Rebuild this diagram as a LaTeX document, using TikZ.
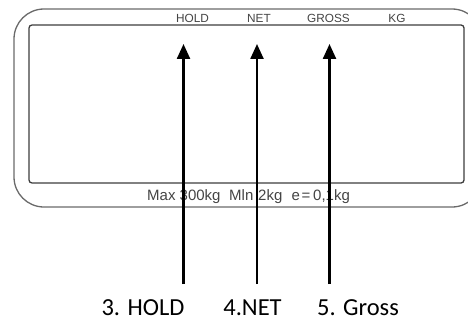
\documentclass[tikz,border=0pt]{standalone}
\usepackage{fontspec}
\setmainfont{Liberation Sans}
\newfontfamily\calfont{Carlito}
\usetikzlibrary{arrows.meta}
\definecolor{framegray}{HTML}{6A6A6A}
\definecolor{innergray}{HTML}{3E3E3E}
\definecolor{txtgray}{HTML}{444444}
\tikzset{
  lcdlabel/.style={font=\fontsize{11.8}{12}\selectfont, text=txtgray, inner sep=0pt, anchor=center},
  spectext/.style={font=\fontsize{15}{16}\selectfont, text=txtgray, inner sep=0pt, anchor=base west},
  caption/.style={font=\calfont\fontsize{24.5}{26}\selectfont, text=black, inner sep=0pt, anchor=base},
  pointer/.style={line width=2.4pt, draw=black, -{Triangle[width=13pt,length=15pt]}},
}
\begin{document}
\begin{tikzpicture}[x=1pt,y=-1pt]
\useasboundingbox (0,0) rectangle (468,321);
\begin{scope}
\clip (0,0) rectangle (468,321);
\draw[framegray, line width=1.3pt, rounded corners=30pt] (14,9) rectangle (482,207);
\end{scope}
\draw[innergray, line width=1.3pt, rounded corners=3pt] (29,25) rectangle (464,183);
\node[lcdlabel] (hold) at (192.5,18) {HOLD};
\node[lcdlabel] (net) at (259,18) {NET};
\node[lcdlabel] (gross) at (328.5,18) {GROSS};
\node[lcdlabel] (kg) at (397,18) {KG};
\node[spectext] (max) at (147,200) {Max 300kg};
\node[spectext] (min) at (229,200) {Mln};
\node[spectext] (min2) at (258,200) {2kg};
\node[spectext] (e) at (291.5,200) {e};
\node[spectext] (eq) at (301.5,200) {=};
\node[spectext] (ev) at (313,200) {0,1kg};
\node[caption] (c3) at (143,315) {3. HOLD};
\node[caption] (c4) at (252.5,315) {4.NET};
\node[caption] (c5) at (358,315) {5. Gross};
\coordinate (s3) at (183.5,284);
\coordinate (s4) at (257,284);
\coordinate (s5) at (329.5,284);
\coordinate (t3) at (183.5,44);
\coordinate (t4) at (257,44);
\coordinate (t5) at (329.5,44);
\draw[pointer] (s3) -- (t3);
\draw[pointer] (s4) -- (t4);
\draw[pointer] (s5) -- (t5);
\end{tikzpicture}
\end{document}
